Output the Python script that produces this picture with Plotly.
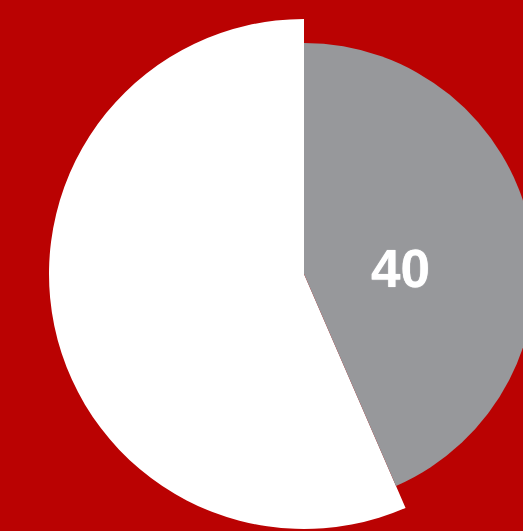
import plotly.graph_objects as go

# Data
labels = ["Highlighted", "Rest"]
values = [40, 52]          # gray slice labelled 40; white share estimated from angle
label_value = values[0]

# Styles
GRAY = "#97989B"
WHITE = "#FFFFFF"
BG = "#BA0202"

W, H = 608, 548          # figure larger than window so pie centre sits at (304, 274)
cx, cy = 304, 274
r_white, r_gray = 255, 231

def dom(r):
    return dict(x=[(cx - r) / W, (cx + r) / W],
                y=[(H - cy - r) / H, (H - cy + r) / H])

fig = go.Figure()
fig.add_trace(go.Pie(
    labels=labels, values=values, sort=False, direction="clockwise", rotation=0,
    marker=dict(colors=["rgba(0,0,0,0)", WHITE], line=dict(width=0)),
    textinfo="none", hoverinfo="skip", domain=dom(r_white), showlegend=False,
))
fig.add_trace(go.Pie(
    labels=labels, values=values, sort=False, direction="clockwise", rotation=0,
    marker=dict(colors=[GRAY, "rgba(0,0,0,0)"], line=dict(width=0)),
    textinfo="none", hoverinfo="skip", domain=dom(r_gray), showlegend=False,
))
fig.add_annotation(
    text=str(label_value), xref="paper", yref="paper",
    x=400 / W, y=(H - 268) / H, xanchor="center", yanchor="middle", showarrow=False,
    font=dict(family="Liberation Sans", size=53, color="white", weight="bold",
              shadow="0px 0px 1px white"),
)
fig.update_layout(
    width=W, height=H, margin=dict(l=0, r=0, t=0, b=0),
    paper_bgcolor=BG, plot_bgcolor=BG, showlegend=False,
)
fig.write_html("out.html", config={"displayModeBar": False},
               post_script="document.body.style.margin='0';document.body.style.overflow='hidden';document.documentElement.style.overflow='hidden';")
